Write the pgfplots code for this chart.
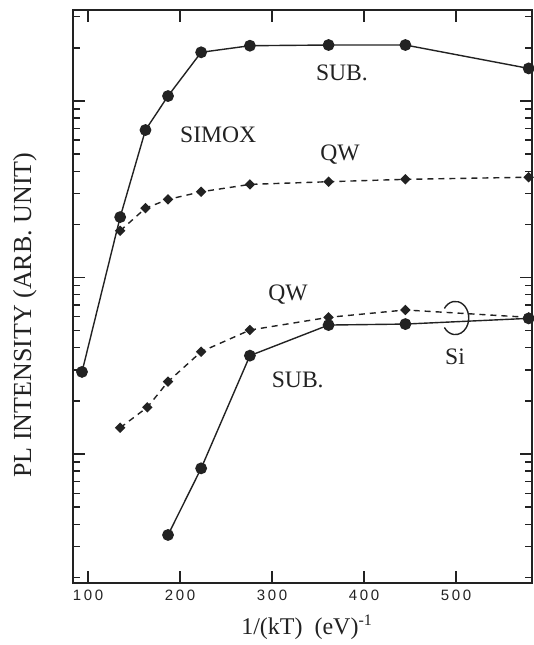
\documentclass[border=0pt]{standalone}
\usepackage{fontspec}
\setmainfont{Liberation Serif}
\newfontfamily\tickfont[LetterSpace=18]{Liberation Sans}
\usepackage{pgfplots}
\pgfplotsset{compat=1.18}
\definecolor{ink}{HTML}{222222}
\begin{document}
\begin{tikzpicture}
\begin{axis}[
  scale only axis, width=229.5pt, height=286.5pt,
  xmin=83.7, xmax=582.6,
  ymode=log, ymin=0.186, ymax=327.8,
  xtick={100,200,300,400,500},
  ytick={1,10,100},
  minor ytick={0.2,0.3,0.4,0.5,0.6,0.7,0.8,0.9,2,3,4,5,6,7,8,9,20,30,40,50,60,70,80,90,200,300},
  yticklabel=\empty,
  axis line style={line width=1.1pt, ink},
  tick style={ink, line width=0.7pt},
  major tick length=6pt, minor tick length=3.5pt,
  /pgf/number format/assume math mode=true,
  xticklabel style={font=\tickfont\fontsize{7.5}{9}\selectfont, text=ink},
  xlabel={1/(kT)\ \ (eV)\textsuperscript{-1}},
  xlabel style={at={(axis description cs:0.51,-0.0768)}, anchor=center, font=\fontsize{12}{14}\selectfont, text=ink},
  ylabel={PL INTENSITY (ARB. UNIT)},
  ylabel style={at={(axis description cs:-0.1046,0.4677)}, anchor=center, font=\fontsize{13}{15}\selectfont, text=ink},
]
\addplot[ink, line width=0.7pt, mark=*, mark size=2.6pt, mark options={fill=ink, draw=ink}] coordinates {
(93.5,2.92) (135,22.0) (162.5,68.5) (187,106.7) (223,188.8) (276,205.7) (361.5,207.6) (445,207.6) (579,153)
};
\addplot[ink, line width=0.7pt, dash pattern=on 3pt off 2.5pt, mark=square*, mark size=1.5pt, mark options={solid, rotate=45, fill=ink, draw=ink}] coordinates {
(135,18.4) (162.5,24.7) (187,27.7) (223,30.6) (276,33.7) (361.5,34.9) (445,36.0) (579,37.0)
};
\addplot[ink, line width=0.7pt, dash pattern=on 3pt off 2.5pt, mark=square*, mark size=1.5pt, mark options={solid, rotate=45, fill=ink, draw=ink}] coordinates {
(135,1.41) (164.5,1.84) (187,2.57) (223,3.80) (276,5.04) (361.5,5.95) (445,6.55) (579,5.95)
};
\addplot[ink, line width=0.7pt, mark=*, mark size=2.6pt, mark options={fill=ink, draw=ink}] coordinates {
(187,0.348) (223,0.830) (276,3.61) (361.5,5.38) (445,5.45) (579,5.87)
};
\begin{scope}[font=\fontsize{11.8}{14}\selectfont, text=ink]
\node at (axis cs:376,144) {SUB.};
\node at (axis cs:241.6,64.2) {SIMOX};
\node at (axis cs:374,49.4) {QW};
\node at (axis cs:317.4,7.96) {QW};
\node at (axis cs:328,2.63) {SUB.};
\node at (axis cs:499,3.56) {Si};
\end{scope}
\draw[ink, line width=0.7pt] ([shift={(145:6.7pt and 8.3pt)}]axis cs:499.3,5.9) arc[start angle=145, end angle=-145, x radius=6.7pt, y radius=8.3pt];
\coordinate (bl) at (rel axis cs:-0.159,-0.1082);
\coordinate (tr) at (rel axis cs:1.00436,1.01745);
\end{axis}
\pgfresetboundingbox
\useasboundingbox (bl) rectangle (tr);
\end{tikzpicture}
\end{document}
